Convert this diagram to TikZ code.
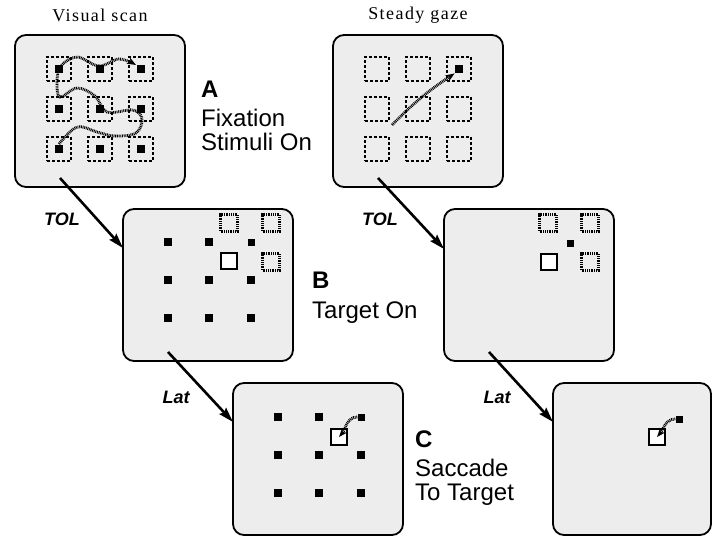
\documentclass[tikz,border=0pt]{standalone}
\usepackage{fontspec}
\setmainfont{Liberation Serif}
\newfontfamily\sansf{Liberation Sans}
\newfontfamily\headf[LetterSpace=8]{Liberation Serif}
\usetikzlibrary{arrows.meta,calc}
\begin{document}
\begin{tikzpicture}[x=1pt,y=-1pt,
  panel/.style={draw=black,line width=1.8pt,rounded corners=11pt,fill=black!7,minimum width=170pt,minimum height=152pt,inner sep=0pt,outer sep=0pt,anchor=north west},
  bigdash/.style={draw=black,line width=2pt,dash pattern=on 3pt off 2pt,minimum size=24pt,inner sep=0pt},
  smalldash/.style={draw=black,line width=2.4pt,dash pattern=on 1pt off 0.8pt,minimum size=17pt,inner sep=0pt},
  blk/.style={fill=black,minimum size=8.5pt,inner sep=0pt},
  fixblk/.style={fill=black,minimum size=7pt,inner sep=0pt},
  tgt/.style={draw=black,fill=white,line width=1.6pt,minimum size=16pt,inner sep=0pt},
  hatch/.style={line width=2.8pt,dash pattern=on 0.9pt off 0.8pt},
  htip/.style={-{Stealth[length=9pt,width=7pt]}},
  flow/.style={line width=2.6pt,-{Stealth[length=15pt,width=9pt,inset=2pt]}},
  flowlbl/.style={font=\sansf\bfseries\itshape\fontsize{18}{21}\selectfont,inner sep=0pt},
  big/.style={font=\sansf\fontsize{24}{28}\selectfont,anchor=base west,inner sep=0pt},
  bigb/.style={font=\sansf\bfseries\fontsize{24}{28}\selectfont,anchor=base west,inner sep=0pt},
  head/.style={font=\headf\fontsize{18}{22}\selectfont,inner sep=0pt}
]
\useasboundingbox (0,0) rectangle (714,538);

% headings
\node[head] (h1) at (100,15) {Visual scan};
\node[head] (h2) at (418,15) {Steady gaze};

% panels
\node[panel] (pA)  at (15,35) {};
\node[panel] (pA2) at (333,35) {};
\node[panel] (pB)  at (123,209) {};
\node[panel] (pB2) at (444,209) {};
\node[panel] (pC)  at (233,383) {};
\node[panel,minimum width=158pt] (pC2) at (553,383) {};

% Panel A, visual scan
\begin{scope}[shift={(15,35)}]
  \foreach \c [count=\i] in {44,85,126}
    \foreach \r [count=\j] in {34,74,114} {
      \node[bigdash] (a\i\j) at (\c,\r) {};
      \node[blk] (ab\i\j) at (\c,\r) {};
    }
  \draw[hatch,htip] plot[smooth,tension=0.6] coordinates
    {(44,109) (62,92) (82,97) (100,101) (121,98) (127,84) (118,75) (92,77)
     (80,61) (62,53) (45,62) (42,46) (46,31) (62,22) (84,31) (104,24) (121,30)};
\end{scope}

% Panel A, steady gaze
\begin{scope}[shift={(333,35)}]
  \foreach \c [count=\i] in {44,85,126}
    \foreach \r [count=\j] in {34,74,114} {
      \node[bigdash] (g\i\j) at (\c,\r) {};
    }
  \node[blk] (gfix) at (126,34) {};
  \coordinate (gstart) at (59,90);
  \draw[hatch,htip] (gstart) to[bend left=6] (gfix.south west);
\end{scope}

% Panel B, visual scan
\begin{scope}[shift={(123,209)}]
  \foreach \c [count=\i] in {45,86,128}
    \foreach \r [count=\j] in {33,71,109} {
      \ifnum\i\j=31 \else \node[blk] (b\i\j) at (\c,\r) {}; \fi
    }
  \node[fixblk] (bfix) at (128,33) {};
  \node[smalldash] (bd1) at (106,14) {};
  \node[smalldash] (bd2) at (148,14) {};
  \node[smalldash] (bd3) at (148,53) {};
  \node[tgt] (btg) at (106,52) {};
\end{scope}

% Panel B, steady gaze
\begin{scope}[shift={(444,209)}]
  \node[smalldash] (sd1) at (104,14) {};
  \node[smalldash] (sd2) at (146,14) {};
  \node[smalldash] (sd3) at (146,53) {};
  \node[tgt] (stg) at (105,53) {};
  \node[fixblk] (sfix) at (126,34) {};
\end{scope}

% Panel C, visual scan
\begin{scope}[shift={(233,383)}]
  \foreach \c [count=\i] in {45,86,128}
    \foreach \r [count=\j] in {34,72,110} {
      \ifnum\i\j=31 \else \node[blk] (c\i\j) at (\c,\r) {}; \fi
    }
  \node[tgt] (ctg) at (106,54) {};
  \node[fixblk] (cfix) at (128,34) {};
  \draw[hatch,htip] (cfix.west) to[out=180,in=50] (ctg.center);
\end{scope}

% Panel C, steady gaze
\begin{scope}[shift={(553,383)}]
  \node[tgt] (dtg) at (104,54) {};
  \node[fixblk] (dfix) at (126,36) {};
  \draw[hatch,htip] (dfix.west) to[out=180,in=50] (dtg.center);
\end{scope}

% flow arrows
\coordinate (sA)  at ($(pA.south west)+(45,-9)$);
\coordinate (eB)  at ($(pB.north west)+(0,39)$);
\coordinate (sB)  at ($(pB.south west)+(45,-9)$);
\coordinate (eC)  at ($(pC.north west)+(0,39)$);
\coordinate (sA2) at ($(pA2.south west)+(45,-9)$);
\coordinate (eB2) at ($(pB2.north west)+(0,40)$);
\coordinate (sB2) at ($(pB2.south west)+(45,-9)$);
\coordinate (eC2) at ($(pC2.north west)+(0,39)$);
\draw[flow] (sA) -- (eB);
\draw[flow] (sB) -- (eC);
\draw[flow] (sA2) -- (eB2);
\draw[flow] (sB2) -- (eC2);

\node[flowlbl] (t1) at (62,219) {TOL};
\node[flowlbl] (t2) at (380,219) {TOL};
\node[flowlbl] (l1) at (176,397) {Lat};
\node[flowlbl] (l2) at (497,397) {Lat};

% stage labels
\node[bigb] (lA)  at (201,97)  {A};
\node[big]  (lA1) at (201,126) {Fixation};
\node[big]  (lA2) at (201,150) {Stimuli On};
\node[bigb] (lB)  at (312,288) {B};
\node[big]  (lB1) at (312,318) {Target On};
\node[bigb] (lC)  at (415,447) {C};
\node[big]  (lC1) at (415,476) {Saccade};
\node[big]  (lC2) at (415,500) {To Target};
\end{tikzpicture}
\end{document}
